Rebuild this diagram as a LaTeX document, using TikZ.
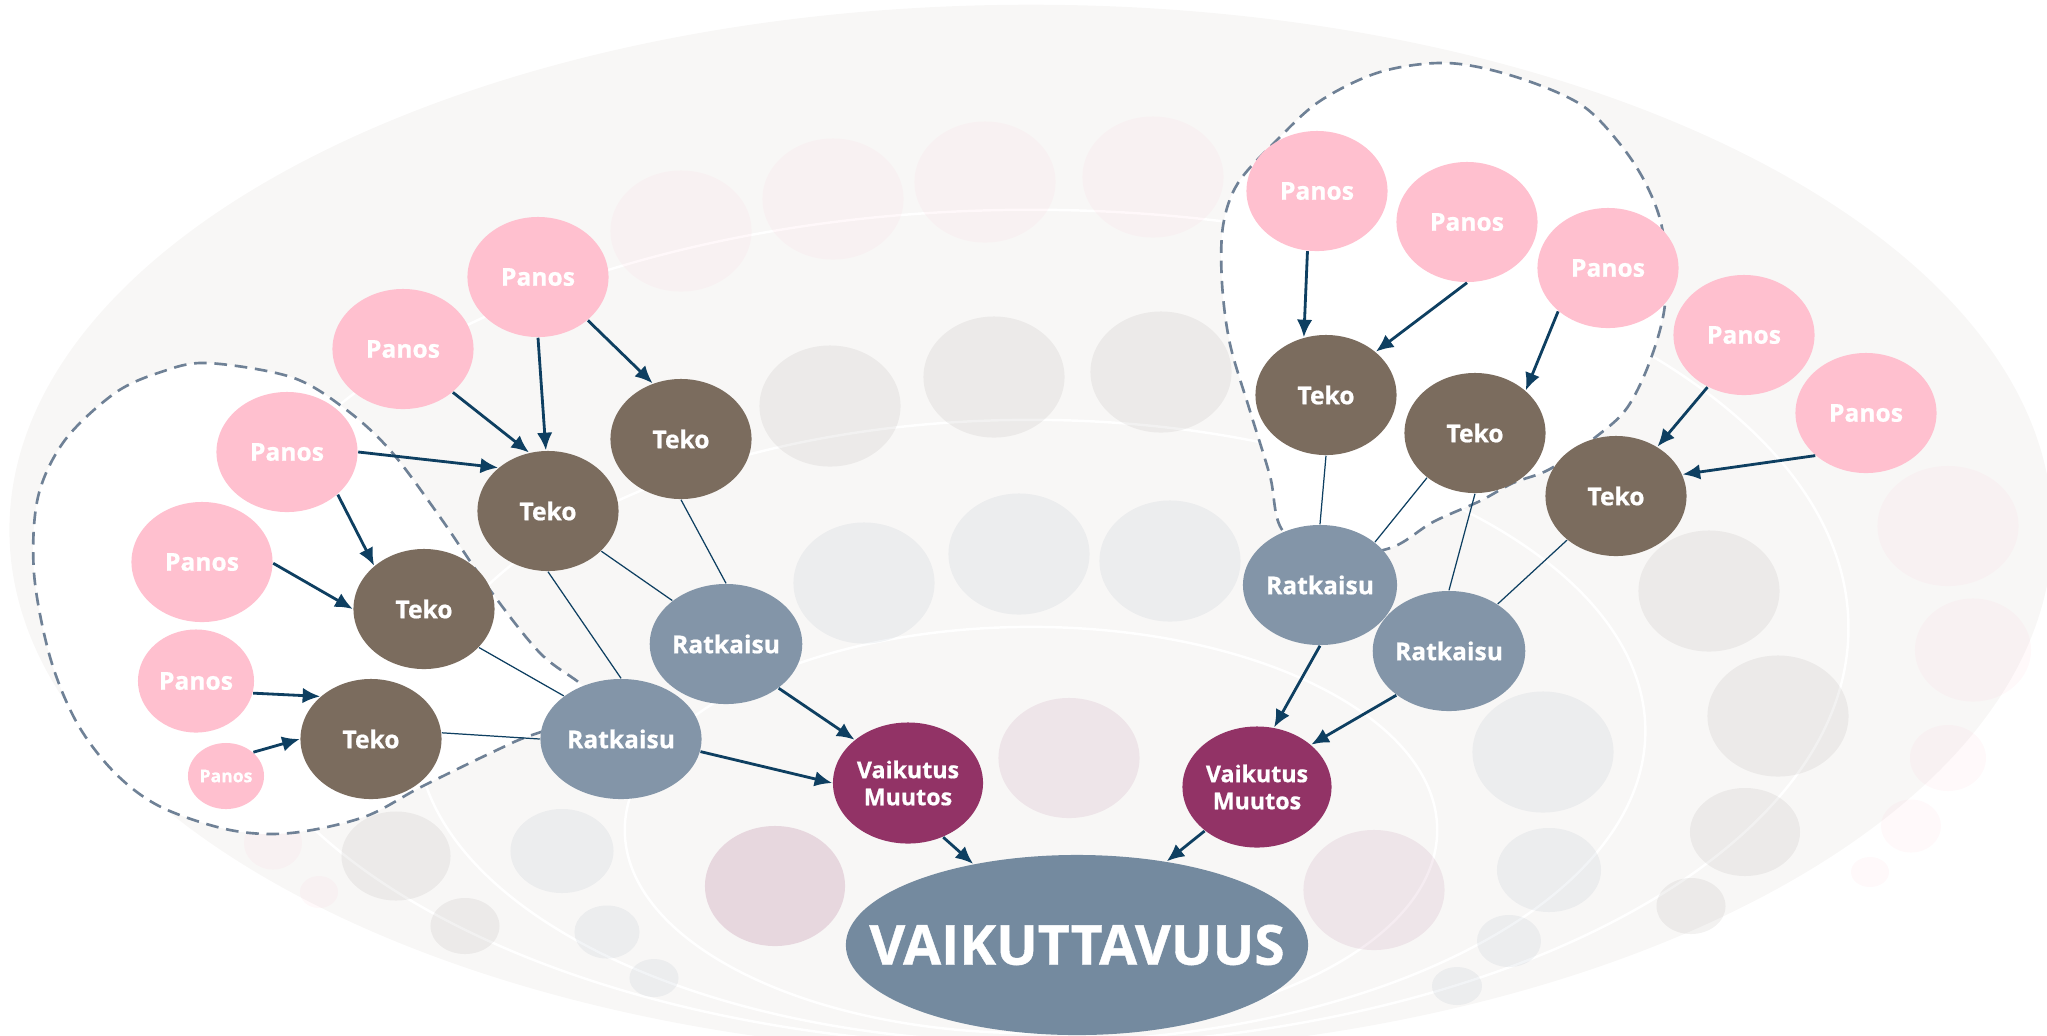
\documentclass[tikz,border=0pt]{standalone}
\usepackage{fontspec}
\setmainfont{Open Sans}[BoldFeatures={FakeBold=0.7}]
\usetikzlibrary{arrows.meta,shapes}

\definecolor{backcol}{HTML}{F8F7F6}
\definecolor{panoscol}{HTML}{FFC0CF}
\definecolor{tekocol}{HTML}{7B6C5E}
\definecolor{ratkaisucol}{HTML}{8395A8}
\definecolor{vaikutuscol}{HTML}{923366}
\definecolor{bigcol}{HTML}{748A9F}
\definecolor{arrowcol}{HTML}{0E3F61}
\definecolor{dashcol}{HTML}{6F8196}

\tikzset{
    bubble/.style = {
        shape=ellipse,
        inner sep=0pt,
        text=white,
        font=\bfseries\fontsize{7}{8}\selectfont
    },
    panos/.style = {
        bubble,
        fill=panoscol,
        minimum width=1.41cm,
        minimum height=1.2cm
    },
    teko/.style = {
        bubble,
        fill=tekocol,
        minimum width=1.41cm,
        minimum height=1.2cm
    },
    ratkaisu/.style = {
        bubble,
        fill=ratkaisucol,
        minimum width=1.54cm,
        minimum height=1.2cm
    },
    vaikutus/.style = {
        bubble,
        fill=vaikutuscol,
        minimum width=1.5cm,
        minimum height=1.21cm,
        align=center,
        font=\bfseries\fontsize{6.6}{7.7}\selectfont
    },
    vaikuttavuus/.style = {
        shape=ellipse,
        fill=bigcol,
        minimum width=4.62cm,
        minimum height=1.8cm
    },
    bigtext/.style = {
        text=white,
        font=\bfseries\fontsize{15.7}{18}\selectfont
    },
    flow/.style = {
        line width=0.8pt,
        draw=arrowcol
    },
    link/.style = {
        line width=0.35pt,
        draw=arrowcol
    },
    cluster/.style = {
        draw=dashcol,
        fill=white,
        line width=0.75pt,
        dash pattern=on 3.6pt off 2.2pt
    },
    whitearc/.style = {draw=white, line width=0.7pt},
    faintpink/.style = {fill=panoscol, fill opacity=0.1},
    faintgray/.style = {fill=black!45!tekocol, fill opacity=0.065},
    faintblue/.style = {fill=ratkaisucol, fill opacity=0.1},
    faintmauve/.style = {fill=vaikutuscol, fill opacity=0.09},
    >={Latex[length=5pt,width=4.4pt]},
}

\begin{document}
\begin{tikzpicture}[x=0.01cm, y=-0.01cm]
    \useasboundingbox (0,0) rectangle (2047,1035);
    \clip (0,0) rectangle (2047,1035);

    % background
    \fill[backcol] (1031,530) ellipse (10.21cm and 5.25cm);
    \draw[whitearc] (1031,628) ellipse (8.17cm and 4.18cm);
    \draw[whitearc] (1031,731) ellipse (6.14cm and 3.11cm);
    \draw[whitearc] (1031,830) ellipse (4.06cm and 2.03cm);

    % faint bubbles
    \fill[faintpink] (681,231) ellipse (0.705cm and 0.605cm);
    \fill[faintpink] (833,199) ellipse (0.705cm and 0.605cm);
    \fill[faintpink] (985,182) ellipse (0.705cm and 0.605cm);
    \fill[faintpink] (1153,177) ellipse (0.705cm and 0.605cm);
    \fill[faintpink] (1948,526) ellipse (0.705cm and 0.6cm);
    \fill[faintpink] (1973,650) ellipse (0.58cm and 0.515cm);
    \fill[faintpink] (1948,758) ellipse (0.38cm and 0.33cm);
    \fill[faintpink] (1911,826) ellipse (0.3cm and 0.265cm);
    \fill[faintpink] (1870,872) ellipse (0.19cm and 0.15cm);
    \fill[faintpink] (273,843) ellipse (0.29cm and 0.265cm);
    \fill[faintpink] (319,892) ellipse (0.19cm and 0.16cm);
    \fill[faintgray] (830,406) ellipse (0.705cm and 0.605cm);
    \fill[faintgray] (994,377) ellipse (0.705cm and 0.605cm);
    \fill[faintgray] (1161,372) ellipse (0.705cm and 0.605cm);
    \fill[faintgray] (1709,591) ellipse (0.705cm and 0.605cm);
    \fill[faintgray] (1778,716) ellipse (0.705cm and 0.605cm);
    \fill[faintgray] (1745,832) ellipse (0.55cm and 0.44cm);
    \fill[faintgray] (1691,906) ellipse (0.345cm and 0.28cm);
    \fill[faintgray] (396,856) ellipse (0.545cm and 0.445cm);
    \fill[faintgray] (465,926) ellipse (0.345cm and 0.28cm);
    \fill[faintblue] (864,583) ellipse (0.705cm and 0.605cm);
    \fill[faintblue] (1019,554) ellipse (0.705cm and 0.605cm);
    \fill[faintblue] (1170,561) ellipse (0.705cm and 0.605cm);
    \fill[faintblue] (1543,752) ellipse (0.705cm and 0.605cm);
    \fill[faintblue] (1549,870) ellipse (0.52cm and 0.42cm);
    \fill[faintblue] (1509,941) ellipse (0.32cm and 0.26cm);
    \fill[faintblue] (1457,986) ellipse (0.25cm and 0.19cm);
    \fill[faintblue] (562,851) ellipse (0.515cm and 0.42cm);
    \fill[faintblue] (607,932) ellipse (0.325cm and 0.265cm);
    \fill[faintblue] (654,978) ellipse (0.245cm and 0.19cm);
    \fill[faintmauve] (1069,758) ellipse (0.705cm and 0.6cm);
    \fill[faintmauve] (1374,890) ellipse (0.705cm and 0.6cm);
    \fill[faintmauve, fill opacity=0.16] (775,886) ellipse (0.7cm and 0.6cm);

    % dashed groups
    \draw[cluster] plot[smooth, tension=0.55] coordinates {(605,712) (582,685) (540,653) (490,590) (440,517) (390,450) (344,408) (291,377) (207,363) (161,372) (115,393) (65,440) (38,497) (34,573) (50,657) (77,723) (115,773) (161,807) (230,830) (291,833) (364,817) (421,787) (497,750) (532,735) (605,712)} -- cycle;
    \draw[cluster] plot[smooth, tension=0.55] coordinates {(1335,560) (1283,531) (1270,476) (1250,411) (1230,344) (1222,283) (1223,226) (1238,183) (1277,140) (1320,101) (1380,72) (1447,63) (1513,76) (1580,104) (1620,144) (1647,186) (1663,233) (1665,304) (1650,361) (1627,408) (1597,436) (1550,469) (1513,483) (1480,501) (1433,522) (1393,547) (1335,560)} -- cycle;

    % left tree
    \node[panos] (panos1) at (538,277) {Panos};
    \node[panos] (panos2) at (403,349) {Panos};
    \node[panos] (panos3) at (287,452) {Panos};
    \node[panos] (panos4) at (202,562) {Panos};
    \node[panos, minimum width=1.16cm, minimum height=1.03cm] (panos5) at (196,681) {Panos};
    \node[panos, minimum width=0.76cm, minimum height=0.66cm, font=\bfseries\fontsize{5}{6}\selectfont] (panos6) at (226,776) {Panos};
    \node[teko] (teko1) at (548,511) {Teko};
    \node[teko] (teko2) at (681,439) {Teko};
    \node[teko] (teko3) at (424,609) {Teko};
    \node[teko] (teko4) at (371,739) {Teko};
    \node[ratkaisu, minimum width=1.61cm] (ratkaisu1) at (621,739) {Ratkaisu};
    \node[ratkaisu, minimum width=1.46cm] (ratkaisu2) at (726,644) {Ratkaisu};
    \node[vaikutus] (vaikutus1) at (908,783) {Vaikutus\\Muutos};

    % right tree
    \node[panos] (panos7) at (1317,191) {Panos};
    \node[panos] (panos8) at (1467,222) {Panos};
    \node[panos] (panos9) at (1608,268) {Panos};
    \node[panos] (panos10) at (1744,335) {Panos};
    \node[panos] (panos11) at (1866,413) {Panos};
    \node[teko] (teko5) at (1326,395) {Teko};
    \node[teko] (teko6) at (1475,433) {Teko};
    \node[teko] (teko7) at (1616,496) {Teko};
    \node[ratkaisu] (ratkaisu3) at (1320,585) {Ratkaisu};
    \node[ratkaisu, minimum width=1.52cm] (ratkaisu4) at (1449,651) {Ratkaisu};
    \node[vaikutus, minimum width=1.49cm] (vaikutus2) at (1257,787) {Vaikutus\\Muutos};

    \node[vaikuttavuus, label={[bigtext]center:VAIKUTTAVUUS}] (vaikuttavuus) at (1077,945) {};

    \path[draw, ->, flow] (panos1.270) -- (teko1.92);
    \path[draw, ->, flow] (panos1.319) -- (teko2.117);
    \path[draw, ->, flow] (panos2.319) -- (teko1.108);
    \path[draw, ->, flow] (panos3.0) -- (teko1.139);
    \path[draw, ->, flow] (panos3.320) -- (teko3.139);
    \path[draw, ->, flow] (panos4.359) -- (teko3.180);
    \path[draw, ->, flow] (panos5.348) -- (teko4.140);
    \path[draw, ->, flow] (panos6.41) -- (teko4.180);

    \path[draw, link] (teko1.270) -- (ratkaisu1.90);
    \path[draw, link] (teko1.323) -- (ratkaisu2.141);
    \path[draw, link] (teko2.270) -- (ratkaisu2.90);
    \path[draw, link] (teko3.325) -- (ratkaisu1.143);
    \path[draw, link] (teko4.5) -- (ratkaisu1.180);

    \path[draw, ->, flow] (ratkaisu1.351) -- (vaikutus1.180);
    \path[draw, ->, flow] (ratkaisu2.320) -- (vaikutus1.141);
    \path[draw, ->, flow] (vaikutus1.303) -- (vaikuttavuus.142);

    \path[draw, ->, flow] (panos7.261) -- (teko5.111);
    \path[draw, ->, flow] (panos8.270) -- (teko5.41);
    \path[draw, ->, flow] (panos9.221) -- (teko6.40);
    \path[draw, ->, flow] (panos10.235) -- (teko7.50);
    \path[draw, ->, flow] (panos11.220) -- (teko7.18);

    \path[draw, link] (teko5.270) -- (ratkaisu3.90);
    \path[draw, link] (teko6.223) -- (ratkaisu3.38);
    \path[draw, link] (teko6.270) -- (ratkaisu4.90);
    \path[draw, link] (teko7.222) -- (ratkaisu4.44);

    \path[draw, ->, flow] (ratkaisu3.270) -- (vaikutus2.74);
    \path[draw, ->, flow] (ratkaisu4.220) -- (vaikutus2.38);
    \path[draw, ->, flow] (vaikutus2.220) -- (vaikuttavuus.43);

\end{tikzpicture}
\end{document}
